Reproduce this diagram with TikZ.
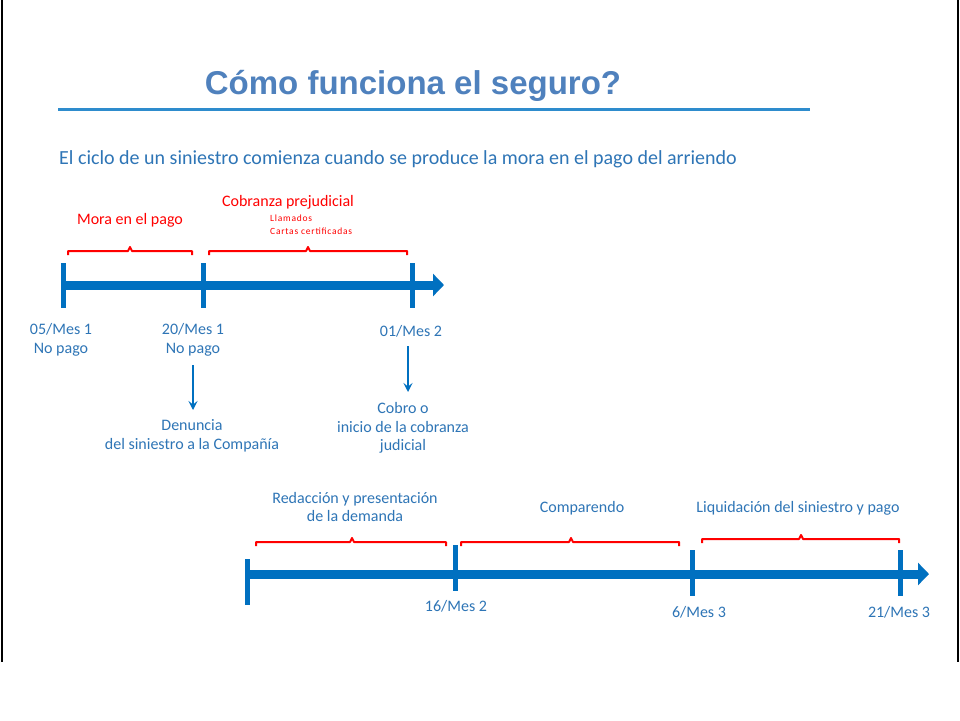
\documentclass[tikz,border=0pt]{standalone}
\usepackage{fontspec}
\setmainfont{Carlito}
\newfontfamily\titlefont{Liberation Sans}
\newfontfamily\smallfont[LetterSpace=8]{Carlito}
\usetikzlibrary{arrows.meta}
\definecolor{titleblue}{RGB}{79,129,189}
\definecolor{txtblue}{RGB}{46,117,182}
\definecolor{barblue}{RGB}{0,112,192}
\definecolor{lineblue}{RGB}{46,140,205}
\definecolor{bred}{RGB}{255,0,0}
\tikzset{
  lbl/.style={text=txtblue, font=\fontsize{16}{18.7}\selectfont, align=center, inner sep=0pt},
  rlbl/.style={text=bred, font=\fontsize{16}{18}\selectfont, inner sep=0pt},
  slbl/.style={text=bred, font=\smallfont\fontsize{9.5}{13}\selectfont, inner sep=0pt, anchor=west},
  timebar/.style={barblue, line width=9pt, -{Triangle[length=11pt,width=22pt]}},
  tickmark/.style={barblue, line width=5pt},
  brk/.style={bred, line width=2pt, line join=round},
  darr/.style={barblue, line width=1.6pt, -{Stealth[length=9pt,width=9pt,inset=3.5pt]}},
  frame/.style={black, line width=2pt}
}
\newcommand{\brkt}[4]{% x1, x2, xc, y
  \draw[brk] (#1,#4+4) -- (#1,#4) -- (#3-2,#4) -- (#3,#4-4) -- (#3+2,#4) -- (#2,#4) -- (#2,#4+4);}
\begin{document}
\begin{tikzpicture}[x=1pt,y=-1pt]
\useasboundingbox (0,0) rectangle (960,720);
\fill[white] (0,0) rectangle (960,720);
% frame
\coordinate (fl1) at (1.5,0); \coordinate (fl2) at (1.5,662);
\coordinate (fr1) at (957.5,0); \coordinate (fr2) at (957.5,662);
\draw[frame] (fl1) -- (fl2);
\draw[frame] (fr1) -- (fr2);
% title
\node[text=titleblue, font=\titlefont\bfseries\fontsize{33}{36}\selectfont, inner sep=0pt] (title) at (413,86) {Cómo funciona el seguro?};
\coordinate (ul1) at (58,109); \coordinate (ul2) at (810,109);
\draw[lineblue, line width=3pt] (ul1) -- (ul2);
\node[text=txtblue, font=\fontsize{20}{23}\selectfont, inner sep=0pt, anchor=west] (sub) at (59,159) {El ciclo de un siniestro comienza cuando se produce la mora en el pago del arriendo};

% top timeline
\coordinate (t0) at (61,285); \coordinate (tend) at (444,285);
\draw[timebar] (t0) -- (tend);
\foreach \x/\n in {63/ta,203/tb,412/tc}{
  \coordinate (\n1) at (\x,263); \coordinate (\n2) at (\x,308);
  \draw[tickmark] (\n1) -- (\n2);
}
\brkt{68}{192}{130}{251}
\brkt{209}{407}{308}{251}
\node[rlbl] (mora) at (130,220) {Mora en el pago};
\node[rlbl] (cobp) at (288,202) {Cobranza prejudicial};
\node[slbl] (llam) at (270,218) {Llamados};
\node[slbl] (cart) at (270,231) {Cartas certificadas};

\node[lbl] (d1) at (61,340) {05/Mes 1\\No pago};
\node[lbl] (d2) at (193,340) {20/Mes 1\\No pago};
\node[lbl] (d3) at (411,331) {01/Mes 2};
\node[lbl] (den) at (192,436) {Denuncia\\del siniestro a la Compañía};
\node[lbl] (cob) at (403,428) {Cobro o\\inicio de la cobranza\\judicial};
\coordinate (a1s) at (193,365); \coordinate (a1e) at (193,410);
\coordinate (a2s) at (408,346); \coordinate (a2e) at (408,392);
\draw[darr] (a1s) -- (a1e);
\draw[darr] (a2s) -- (a2e);

% bottom timeline
\coordinate (b0) at (245,574); \coordinate (bend) at (929,574);
\draw[timebar] (b0) -- (bend);
\coordinate (ba1) at (247,559); \coordinate (ba2) at (247,605);
\coordinate (bb1) at (455,545); \coordinate (bb2) at (455,591);
\coordinate (bc1) at (692,550); \coordinate (bc2) at (692,596);
\coordinate (bd1) at (900,550); \coordinate (bd2) at (900,596);
\draw[tickmark] (ba1) -- (ba2);
\draw[tickmark] (bb1) -- (bb2);
\draw[tickmark] (bc1) -- (bc2);
\draw[tickmark] (bd1) -- (bd2);
\brkt{256}{446}{352}{542}
\brkt{461}{679}{571}{542}
\brkt{702}{899}{801}{539}
\node[lbl] (red) at (355,507) {Redacción y presentación\\de la demanda};
\node[lbl] (comp) at (582,508) {Comparendo};
\node[lbl] (liq) at (798,508) {Liquidación del siniestro y pago};
\node[lbl] (e1) at (456,606) {16/Mes 2};
\node[lbl] (e2) at (699,612) {6/Mes 3};
\node[lbl] (e3) at (899,612) {21/Mes 3};
\end{tikzpicture}
\end{document}
